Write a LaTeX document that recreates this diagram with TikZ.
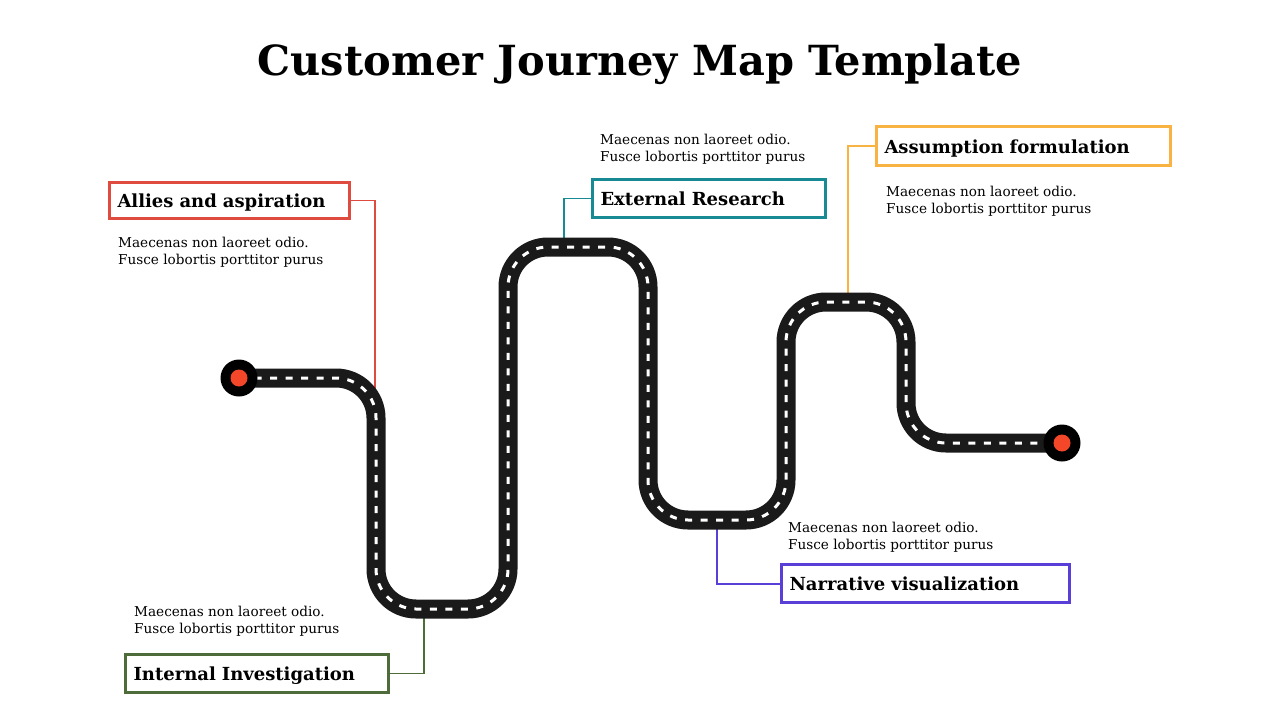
\documentclass[tikz,border=0pt]{standalone}
\usepackage{fontspec}
\setmainfont{DejaVu Serif}
\definecolor{cred}{HTML}{E04B3F}
\definecolor{cgreen}{HTML}{4E6B3A}
\definecolor{cteal}{HTML}{178A93}
\definecolor{cpurple}{HTML}{5A3ED8}
\definecolor{corange}{HTML}{F9B342}
\definecolor{road}{HTML}{1A1A1A}
\definecolor{dot}{HTML}{F4472A}
\tikzset{
  lbl/.style={line width=3pt, inner xsep=8pt, inner ysep=0pt, align=left,
    text height=14pt, text depth=0pt,
    font=\fontsize{18}{21}\selectfont\bfseries, fill=white},
  desc/.style={anchor=base west, inner sep=0pt, font=\fontsize{13.6}{17}\selectfont},
  conn/.style={line width=1.5pt},
  roadbase/.style={draw=road, line width=19pt, rounded corners=40pt},
  roadline/.style={draw=white, line width=3pt, rounded corners=40pt, dash pattern=on 7pt off 8.5pt},
}
\begin{document}
\begin{tikzpicture}[x=1pt,y=-1pt]
\useasboundingbox (0,0) rectangle (1280,720);
% title
\node[anchor=base, inner sep=0pt, font=\fontsize{41.5}{48}\selectfont\bfseries] (title) at (640,75) {Customer Journey Map Template};

% label boxes
\node[lbl, draw=cred, text width=224pt, minimum height=36pt] (b1) at (229.5,200.5) {Allies and aspiration};
\node[lbl, draw=cgreen, text width=247pt, minimum height=38pt] (b2) at (257,673.5) {Internal Investigation};
\node[lbl, draw=cteal, text width=217pt, minimum height=38pt] (b3) at (709,198.5) {External Research};
\node[lbl, draw=cpurple, text width=272pt, minimum height=38pt] (b4) at (925.5,583.5) {Narrative visualization};
\node[lbl, draw=corange, text width=278pt, minimum height=39pt] (b5) at (1023.5,146) {Assumption formulation};

% connector free ends
\coordinate (r1) at (375,390);
\coordinate (r2) at (424,616);
\coordinate (r3) at (564,240);
\coordinate (r4) at (717,526);
\coordinate (r5) at (848,295);

\draw[conn, cred] (b1.east) -| (r1);
\draw[conn, cgreen] (b2.east) -| (r2);
\draw[conn, cteal] (b3.west) -| (r3);
\draw[conn, cpurple, line width=2pt] (b4.west) -| (r4);
\draw[conn, corange] (b5.west) -| (r5);

% road
\coordinate (s) at (239,378);
\coordinate (e) at (1062,443);
\path[roadbase] (s) -- (376,378) -- (376,609) -- (508,609) -- (508,247) -- (648,247) -- (648,520) -- (786,520) -- (786,302) -- (906,302) -- (906,443) -- (e);
\path[roadline] (s) -- (376,378) -- (376,609) -- (508,609) -- (508,247) -- (648,247) -- (648,520) -- (786,520) -- (786,302) -- (906,302) -- (906,443) -- (e);

% end points
\node[circle, fill=black, minimum size=37pt, inner sep=0pt] (start) at (s) {};
\node[circle, fill=dot, minimum size=17pt, inner sep=0pt] (startdot) at (s) {};
\node[circle, fill=black, minimum size=37pt, inner sep=0pt] (end) at (e) {};
\node[circle, fill=dot, minimum size=17pt, inner sep=0pt] (enddot) at (e) {};

% descriptions
\node[desc] (d1a) at (118,247) {Maecenas non laoreet odio.};
\node[desc] (d1b) at (118,264) {Fusce lobortis porttitor purus};
\node[desc] (d2a) at (134,616) {Maecenas non laoreet odio.};
\node[desc] (d2b) at (134,633) {Fusce lobortis porttitor purus};
\node[desc] (d3a) at (600,144) {Maecenas non laoreet odio.};
\node[desc] (d3b) at (600,161) {Fusce lobortis porttitor purus};
\node[desc] (d4a) at (788,532) {Maecenas non laoreet odio.};
\node[desc] (d4b) at (788,549) {Fusce lobortis porttitor purus};
\node[desc] (d5a) at (886,196) {Maecenas non laoreet odio.};
\node[desc] (d5b) at (886,213) {Fusce lobortis porttitor purus};
\end{tikzpicture}
\end{document}
